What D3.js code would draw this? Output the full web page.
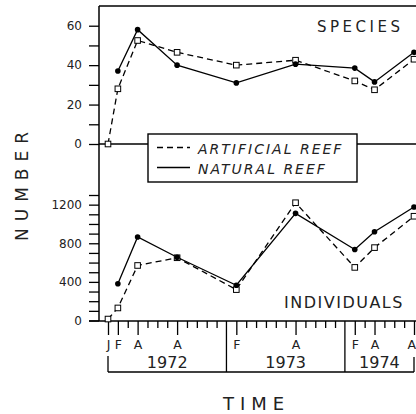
<!DOCTYPE html>
<html>
<head>
<style>
  body { margin: 0; background: #fff; }
  svg { display: block; }
</style>
</head>
<body>
<svg width="416" height="414" font-family="DejaVu Sans, sans-serif"></svg>
<script src="https://cdn.jsdelivr.net/npm/d3@7"></script>
<script>

    // months counted from Jan 1972 (0) to Aug 1974 (31)
    var sampleMonths = [0, 1, 3, 7, 13, 19, 25, 27, 31];
    var speciesArtificial = [0, 28, 52.5, 46.5, 40, 42.5, 32, 27.5, 43];
    var speciesNatural = [null, 37, 58, 40, 31, 40.5, 38.5, 31.5, 46.5];
    var individualsArtificial = [15, 130, 570, 650, 320, 1220, 550, 755, 1080];
    var individualsNatural = [null, 380, 865, 655, 365, 1110, 735, 920, 1175];

    var monthTicks = [0, 1, 3, 7, 13, 19, 25, 27, 31];
    var monthLabels = ["J", "F", "A", "A", "F", "A", "F", "A", "A"];
    var yearNames = ["1972", "1973", "1974"];
    var yearStarts = [0, 12, 24];
    var lastMonth = 31;

    var svg = d3.select("svg");

    var x = d3.scaleLinear().domain([0, 31]).range([108, 414]);
    var ySp = d3.scaleLinear().domain([0, 70]).range([144, 6]);
    var yInd = d3.scaleLinear().domain([0, 1300]).range([320.5, 195]);

    function series(vals) {
        return sampleMonths.map(function(m, i) { return {m: m, v: vals[i]}; });
    }

    // frame lines
    svg.append("line").attr("x1", 99).attr("x2", 416).attr("y1", 6).attr("y2", 6)
        .attr("stroke", "#000").attr("stroke-width", 1.5);
    svg.append("line").attr("x1", 99).attr("x2", 99).attr("y1", 6).attr("y2", 321)
        .attr("stroke", "#000").attr("stroke-width", 1.5);
    svg.append("line").attr("x1", 99).attr("x2", 416).attr("y1", ySp(0)).attr("y2", ySp(0))
        .attr("stroke", "#000").attr("stroke-width", 1.3);
    svg.append("line").attr("x1", 89).attr("x2", 416).attr("y1", 321).attr("y2", 321)
        .attr("stroke", "#000").attr("stroke-width", 1.5);

    // y axes
    function styleAxis(g) {
        g.select(".domain").remove();
        g.attr("font-family", "DejaVu Sans, sans-serif").attr("font-size", 12);
        g.selectAll("line").attr("stroke-width", 1.3);
        g.selectAll("text").attr("fill", "#222");
    }

    svg.append("g").attr("transform", "translate(99,0)")
        .call(d3.axisLeft(ySp).tickValues(d3.range(0, 61, 10)).tickSize(10).tickSizeOuter(0).tickPadding(7)
            .tickFormat(function(d) { return d % 20 === 0 ? d : ""; }))
        .call(styleAxis);

    svg.append("g").attr("transform", "translate(99,0)")
        .call(d3.axisLeft(yInd).tickValues(d3.range(0, 1301, 100)).tickSize(10).tickSizeOuter(0).tickPadding(7)
            .tickFormat(function(d) { return d % 400 === 0 ? d : ""; }))
        .call(styleAxis);

    // x axis (months)
    var xAxis = svg.append("g").attr("transform", "translate(0,321)")
        .call(d3.axisBottom(x)
            .tickValues(d3.range(0, 32).filter(function(m) { return m !== 12 && m !== 24; }))
            .tickSize(7).tickSizeOuter(0).tickPadding(12)
            .tickFormat(function(d) {
                var i = monthTicks.indexOf(d);
                return i >= 0 ? monthLabels[i] : "";
            }))
        .call(styleAxis);
    xAxis.attr("font-size", 12.5);
    xAxis.selectAll(".tick").filter(function(d) { return monthTicks.indexOf(d) >= 0; })
        .select("line").attr("y2", 14);
    // keep the last label inside the window
    xAxis.selectAll(".tick").filter(function(d) { return d === lastMonth; })
        .select("text").attr("text-anchor", "end").attr("dx", 1.5);

    // year brackets
    var yb = svg.append("g").attr("stroke", "#000").attr("stroke-width", 1.3);
    yb.append("line").attr("x1", x(0)).attr("x2", x(lastMonth)).attr("y1", 372).attr("y2", 372);
    yb.append("line").attr("x1", x(0)).attr("x2", x(0)).attr("y1", 356).attr("y2", 372);
    yb.append("line").attr("x1", x(lastMonth)).attr("x2", x(lastMonth)).attr("y1", 357).attr("y2", 372);
    yearStarts.slice(1).forEach(function(m) {
        yb.append("line").attr("x1", x(m)).attr("x2", x(m)).attr("y1", 321).attr("y2", 372);
    });
    svg.selectAll(".year").data(yearNames).enter().append("text")
        .attr("class", "year")
        .attr("x", function(d, i) {
            var end = i < yearStarts.length - 1 ? yearStarts[i + 1] : lastMonth;
            return x((yearStarts[i] + end) / 2);
        })
        .attr("y", 368)
        .attr("text-anchor", "middle")
        .attr("font-size", 16)
        .attr("fill", "#222")
        .text(function(d) { return d; });

    // lines and markers
    function drawPanel(y, art, nat) {
        var line = d3.line()
            .defined(function(d) { return d.v != null; })
            .x(function(d) { return x(d.m); })
            .y(function(d) { return y(d.v); });

        svg.append("path").datum(series(art)).attr("d", line)
            .attr("fill", "none").attr("stroke", "#000").attr("stroke-width", 1.3)
            .attr("stroke-dasharray", "6,4");
        svg.append("path").datum(series(nat)).attr("d", line)
            .attr("fill", "none").attr("stroke", "#000").attr("stroke-width", 1.3);

        svg.append("g").selectAll("rect")
            .data(series(art).filter(function(d) { return d.v != null; }))
            .enter().append("rect")
            .attr("x", function(d) { return x(d.m) - 2.8; })
            .attr("y", function(d) { return y(d.v) - 2.8; })
            .attr("width", 5.6).attr("height", 5.6)
            .attr("fill", "#fff").attr("stroke", "#000").attr("stroke-width", 1);

        svg.append("g").selectAll("circle")
            .data(series(nat).filter(function(d) { return d.v != null; }))
            .enter().append("circle")
            .attr("cx", function(d) { return x(d.m); })
            .attr("cy", function(d) { return y(d.v); })
            .attr("r", 2.8)
            .attr("fill", "#000");
    }

    drawPanel(ySp, speciesArtificial, speciesNatural);
    drawPanel(yInd, individualsArtificial, individualsNatural);

    // legend
    var lg = svg.append("g");
    lg.append("rect").attr("x", 148).attr("y", 134).attr("width", 209).attr("height", 48)
        .attr("fill", "#fff").attr("stroke", "#000").attr("stroke-width", 1.4);
    lg.append("line").attr("x1", 157).attr("x2", 190).attr("y1", 147.5).attr("y2", 147.5)
        .attr("stroke", "#000").attr("stroke-width", 1.3).attr("stroke-dasharray", "6,4");
    lg.append("line").attr("x1", 157).attr("x2", 190).attr("y1", 167.5).attr("y2", 167.5)
        .attr("stroke", "#000").attr("stroke-width", 1.3);
    lg.append("text").attr("x", 198).attr("y", 153.5).attr("font-size", 14).attr("font-style", "italic")
        .attr("letter-spacing", 2).attr("fill", "#222").text("ARTIFICIAL REEF");
    lg.append("text").attr("x", 198).attr("y", 173.5).attr("font-size", 14).attr("font-style", "italic")
        .attr("letter-spacing", 2).attr("fill", "#222").text("NATURAL REEF");

    // titles
    svg.append("text").attr("x", 317).attr("y", 32).attr("font-size", 15)
        .attr("letter-spacing", 3.5).attr("fill", "#222").text("SPECIES");
    svg.append("text").attr("x", 284).attr("y", 307.5).attr("font-size", 16)
        .attr("letter-spacing", 1.5).attr("fill", "#222").text("INDIVIDUALS");
    svg.append("text").attr("transform", "translate(28,183) rotate(-90)")
        .attr("text-anchor", "middle").attr("font-size", 17)
        .attr("letter-spacing", 7).attr("fill", "#222").text("NUMBER");
    svg.append("text").attr("x", 223).attr("y", 410).attr("font-size", 18)
        .attr("letter-spacing", 6).attr("fill", "#222").text("TIME");

</script>
</body>
</html>
